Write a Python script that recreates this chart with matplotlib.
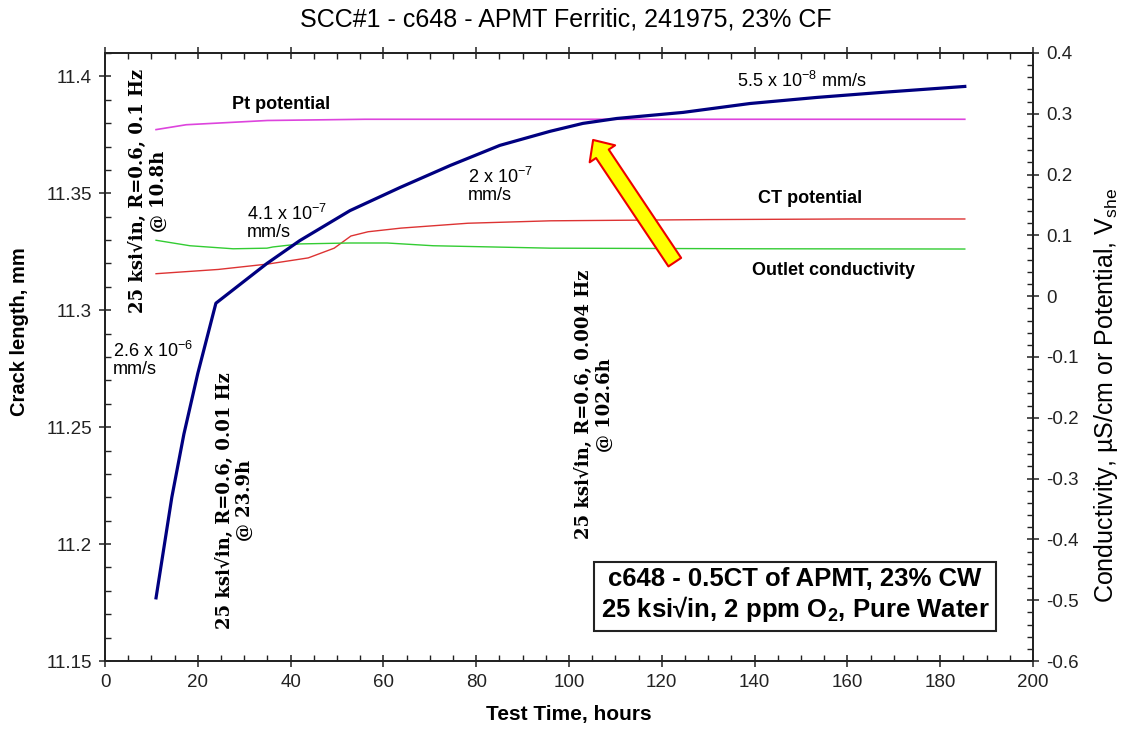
import matplotlib
matplotlib.use("Agg")
import matplotlib.pyplot as plt
from matplotlib.ticker import MultipleLocator, FuncFormatter
from matplotlib.patches import FancyArrowPatch

plt.rcParams['font.family'] = ['Liberation Sans', 'DejaVu Sans']
plt.rcParams['axes.unicode_minus'] = False
plt.rcParams['mathtext.fontset'] = 'custom'
plt.rcParams['mathtext.rm'] = 'Liberation Sans'
plt.rcParams['mathtext.it'] = 'Liberation Sans:italic'
plt.rcParams['mathtext.bf'] = 'Liberation Sans:bold'

# ---- data ----
crack_t = [11.0, 14.4, 17.0, 20.0, 23.9, 34.9, 42.0, 52.8, 63.6, 74.4, 85.1,
           95.9, 103.0, 110.3, 124.6, 139.0, 153.4, 167.7, 185.3]
crack_mm = [11.177, 11.220, 11.247, 11.273, 11.303, 11.320, 11.3298, 11.3426,
            11.3525, 11.3619, 11.3705, 11.3765, 11.3799, 11.3820, 11.3846,
            11.3884, 11.3910, 11.3932, 11.3957]

pt_t = [11.0, 17.5, 35.0, 56.0, 80.0, 120.0, 160.0, 185.3]
pt_v = [0.274, 0.282, 0.289, 0.291, 0.291, 0.291, 0.291, 0.291]

ct_t = [11.0, 24.4, 35.2, 43.8, 49.4, 53.0, 56.7, 63.8, 78.2, 96.0, 130.0, 160.0, 185.3]
ct_v = [0.037, 0.044, 0.053, 0.063, 0.079, 0.099, 0.106, 0.112, 0.120, 0.124,
        0.126, 0.127, 0.127]

cond_t = [11.0, 18.3, 27.6, 34.9, 36.2, 42.0, 52.8, 60.8, 70.7, 96.0, 140.0, 185.3]
cond_v = [0.092, 0.083, 0.078, 0.079, 0.081, 0.086, 0.0875, 0.0875, 0.083, 0.079,
          0.078, 0.0776]

x_ticks = [0, 20, 40, 60, 80, 100, 120, 140, 160, 180, 200]
left_ticks = [11.15, 11.2, 11.25, 11.3, 11.35, 11.4]
right_ticks = [-0.6, -0.5, -0.4, -0.3, -0.2, -0.1, 0, 0.1, 0.2, 0.3, 0.4]

fig = plt.figure(figsize=(11.21, 7.32), dpi=100)
ax = fig.add_axes([105/1121, 1 - 661/732, (1033-105)/1121, (661-53)/732])
ax2 = ax.twinx()

ax.plot(crack_t, crack_mm, color='#000080', lw=2.3, zorder=5)
ax2.plot(pt_t, pt_v, color='#dd44dd', lw=1.2)
ax2.plot(ct_t, ct_v, color='#dd3333', lw=1.0)
ax2.plot(cond_t, cond_v, color='#33cc33', lw=1.0)

ax.set_zorder(ax2.get_zorder() + 1)
ax.patch.set_visible(False)

ax.set_xlim(0, 200)
ax.set_ylim(11.15, 11.41)
ax2.set_ylim(-0.6, 0.4)

ax.set_xticks(x_ticks)
ax.set_yticks(left_ticks)
ax2.set_yticks(right_ticks)
ax.xaxis.set_minor_locator(MultipleLocator(5))
ax.yaxis.set_minor_locator(MultipleLocator(0.01))
ax2.yaxis.set_minor_locator(MultipleLocator(0.02))
ax.yaxis.set_major_formatter(FuncFormatter(lambda v, p: '%g' % round(v, 3)))
ax2.yaxis.set_major_formatter(FuncFormatter(lambda v, p: '%g' % round(v, 3)))

for a in (ax, ax2):
    for s in a.spines.values():
        s.set_linewidth(1.3)
        s.set_color('#222222')
ax.tick_params(which='major', direction='inout', length=9, width=1.1,
               labelsize=13.5, colors='#222222', pad=5, top=True)
ax.tick_params(which='minor', direction='in', length=4, width=1.0,
               colors='#222222', top=True)
ax2.tick_params(which='major', direction='inout', length=9, width=1.1,
                labelsize=13.5, colors='#222222', pad=5)
ax2.tick_params(which='minor', direction='in', length=4, width=1.0, colors='#222222')

ax.set_xlabel('Test Time, hours', fontsize=15, fontweight='bold', labelpad=10)
ax.set_ylabel('Crack length, mm', fontsize=14.5, fontweight='bold')
ax.yaxis.set_label_coords(-0.0819, 0.541)
ax2.set_ylabel('Conductivity, µS/cm or Potential, V$_{\\mathregular{she}}$', fontsize=18,
               rotation=90)
ax2.yaxis.set_label_coords(1.064, 0.4375)
fig.text(566/1121, 1 - 19/732, 'SCC#1 - c648 - APMT Ferritic, 241975, 23% CF',
         ha='center', va='center', fontsize=18)

# ---- annotations ----
ax.text(37.9, 11.388, 'Pt potential', fontsize=13, fontweight='bold',
        ha='center', va='center')
ax.text(151.9, 11.3478, 'CT potential', fontsize=13, fontweight='bold',
        ha='center', va='center')
ax.text(156.9, 11.3170, 'Outlet conductivity', fontsize=13, fontweight='bold',
        ha='center', va='center')
ax.text(1.7, 11.2789, '2.6 x 10$^{\\mathregular{-6}}$\nmm/s', fontsize=13,
        ha='left', va='center', linespacing=1.0)
ax.text(30.6, 11.3375, '4.1 x 10$^{\\mathregular{-7}}$\nmm/s', fontsize=13,
        ha='left', va='center', linespacing=1.0)
ax.text(78.2, 11.3533, '2 x 10$^{\\mathregular{-7}}$\nmm/s', fontsize=13,
        ha='left', va='center', linespacing=1.0)
ax.text(136.2, 11.3979, '5.5 x 10$^{\\mathregular{-8}}$ mm/s', fontsize=13,
        ha='left', va='center')

serif = dict(fontfamily='DejaVu Serif', fontweight='bold', fontsize=13,
             rotation=90, ha='center', va='center', multialignment='center',
             linespacing=1.2)
ax.text(9.3, 11.351, '25 ksi√in, R=0.6, 0.1 Hz\n@ 10.8h', **serif)
ax.text(28.0, 11.2185, '25 ksi√in, R=0.6, 0.01 Hz\n@ 23.9h', **serif)
ax.text(105.4, 11.2596, '25 ksi√in, R=0.6, 0.004 Hz\n@ 102.6h', **serif)

ax.text(148.7, 11.178, 'c648 - 0.5CT of APMT, 23% CW\n25 ksi√in, 2 ppm O$_{\\mathbf{2}}$, Pure Water',
        fontsize=18.5, fontweight='bold', ha='center', va='center',
        multialignment='center', linespacing=1.15,
        bbox=dict(boxstyle='square,pad=0.25', facecolor='white',
                  edgecolor='#222222', linewidth=1.5), zorder=6)

arrow = FancyArrowPatch((122.8, 0.056), (105.2, 0.257),
                        arrowstyle='simple,head_width=2.2,head_length=1.2,tail_width=1.1',
                        mutation_scale=10, facecolor='#ffff00', edgecolor='#ee0000',
                        linewidth=1.5, shrinkA=0, shrinkB=0, zorder=7)
ax2.add_patch(arrow)

fig.savefig('out.png', dpi=100)
